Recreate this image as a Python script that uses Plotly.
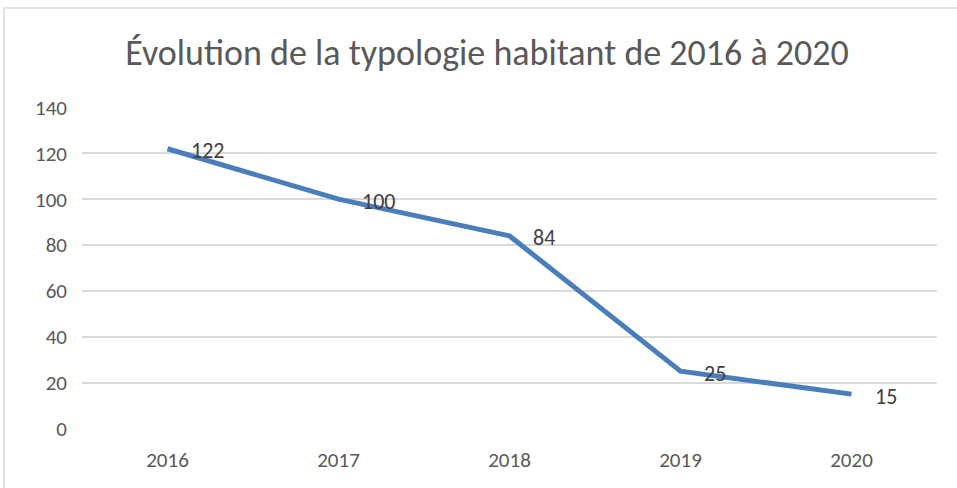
import plotly.graph_objects as go

years = ["2016", "2017", "2018", "2019", "2020"]
values = [122, 100, 84, 25, 15]
y_ticks = [0, 20, 40, 60, 80, 100, 120, 140]

W, H = 957, 488
L, R, T, B = 82, 20, 107, 59
pw, ph = W - L - R, H - T - B

FONT = "Carlito, Liberation Sans Narrow, Lato, sans-serif"
TXT = "#595959"

fig = go.Figure()
fig.add_trace(go.Scatter(
    x=years, y=values, mode="lines",
    line=dict(color="#4A7EBB", width=5),
    hoverinfo="skip", showlegend=False,
))

for i, v in enumerate(values):
    fig.add_annotation(x=i, y=v, text=str(v), showarrow=False,
                       xanchor="left", yanchor="middle", xshift=21, yshift=-2,
                       font=dict(family=FONT, size=22, color="#404040"))

def px_x(p):
    return (p - L) / pw
def px_y(p):
    return (H - B - p) / ph

fig.add_shape(type="rect", xref="paper", yref="paper",
              x0=px_x(4), x1=px_x(962), y0=px_y(8), y1=px_y(495),
              line=dict(color="#D9D9D9", width=1.5), fillcolor="rgba(0,0,0,0)",
              layer="below")

fig.update_layout(
    width=W, height=H,
    margin=dict(l=L, r=R, t=T, b=B),
    paper_bgcolor="white", plot_bgcolor="white",
    title=dict(text="Évolution de la typologie habitant de 2016 à 2020",
               x=487 / W, xanchor="center", y=1 - 52 / H, yanchor="middle",
               font=dict(family=FONT, size=36, color=TXT)),
    font=dict(family=FONT, color=TXT),
    xaxis=dict(type="category", range=[-0.5, 4.5], showgrid=False,
               zeroline=False, showline=False, ticks="",
               tickfont=dict(size=21, color=TXT), ticklabelstandoff=16),
    yaxis=dict(range=[-0.2, 140.2], tickvals=y_ticks, showgrid=True,
               gridcolor="#D9D9D9", gridwidth=1.5, zeroline=False,
               showline=False, ticks="", ticklabelstandoff=14,
               tickfont=dict(size=21, color=TXT)),
)

fig.write_html("out.html", config={"displayModeBar": False},
               post_script="document.body.style.margin='0';document.body.style.overflow='hidden';")
